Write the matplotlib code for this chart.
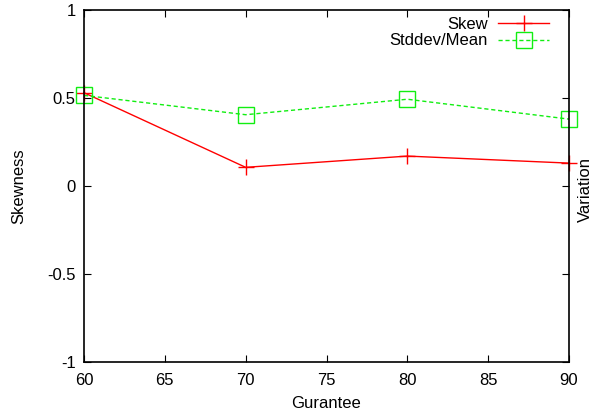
import matplotlib
matplotlib.use("Agg")
import matplotlib.pyplot as plt

plt.rcParams['font.family'] = ['Liberation Sans', 'DejaVu Sans']

guarantee = [60, 70, 80, 90]
skew = [0.53, 0.106, 0.17, 0.13]
stddev_mean = [0.515, 0.405, 0.493, 0.38]

x_ticks = [60, 65, 70, 75, 80, 85, 90]
y_ticks = [-1, -0.5, 0, 0.5, 1]
y_tick_labels = ['-1', '-0.5', '0', '0.5', '1']

red = '#ff0000'
green = '#11ee11'

fig = plt.figure(figsize=(5.92, 4.15), dpi=100)
ax = fig.add_axes([84 / 592, 1 - 362 / 415, (569 - 84) / 592, (362 - 10) / 415])

ax.plot(guarantee, skew, color=red, lw=1.0, marker='+', markersize=12,
        markeredgewidth=1.0, label='Skew', clip_on=False)
ax.plot(guarantee, stddev_mean, color=green, lw=1.0, ls=(0, (3, 2)),
        marker='s', markersize=11, markerfacecolor='none',
        markeredgecolor=green, markeredgewidth=1.0, label='Stddev/Mean',
        clip_on=False)

ax.set_xlim(60, 90)
ax.set_ylim(-1, 1)
ax.set_xticks(x_ticks)
ax.set_xticklabels([str(t) for t in x_ticks])
ax.set_yticks(y_ticks)
ax.set_yticklabels(y_tick_labels)
ax.tick_params(direction='in', top=True, right=True, length=5, width=0.8,
               labelsize=12)
ax.tick_params(axis='x', pad=8)
ax.tick_params(axis='y', pad=6)
for s in ax.spines.values():
    s.set_linewidth(1.2)

ax.set_xlabel('Gurantee', fontsize=12, labelpad=6)
ax.set_ylabel('Skewness', fontsize=12, labelpad=15)
fig.text(585 / 592, 1 - 189 / 415, 'Variation', rotation=90, fontsize=12,
         ha='center', va='center')

leg = ax.legend(loc='upper right', bbox_to_anchor=(1 - 8 / 485, 1 + 5 / 352),
                frameon=False, markerfirst=False,
                fontsize=12, handlelength=3.1, handletextpad=0.6,
                labelspacing=0.1, borderaxespad=0.3)
for t in leg.get_texts():
    t.set_ha('right')

fig.savefig('out.png', dpi=100)
